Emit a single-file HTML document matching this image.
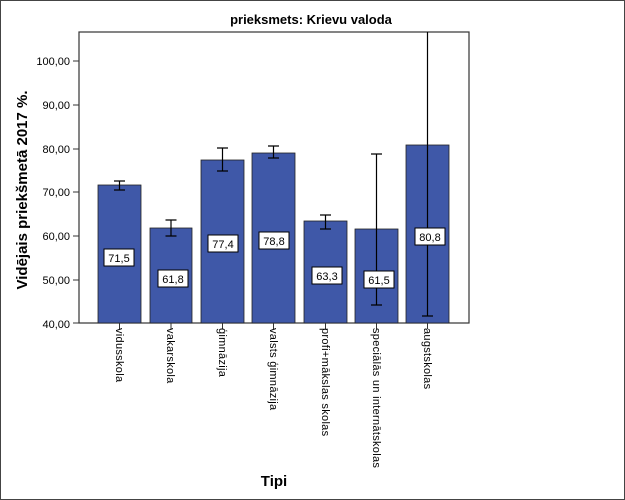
<!DOCTYPE html>
<html><head><meta charset="utf-8"><style>
body{margin:0;background:#fff}
svg{display:block;font-family:"Liberation Sans",sans-serif}
</style></head><body>
<svg width="625" height="500" viewBox="0 0 625 500" xmlns="http://www.w3.org/2000/svg">
<rect x="0.5" y="0.5" width="624" height="499" fill="#fff" stroke="#444"/>
<text x="311" y="24" font-size="13" font-weight="bold" text-anchor="middle">prieksmets: Krievu valoda</text>
<rect x="79" y="32" width="390" height="291" fill="#fff" stroke="#333" stroke-width="1.2"/>
<g font-size="11" text-anchor="end" fill="#000">
<text x="70" y="65">100,00</text><text x="70" y="109">90,00</text><text x="70" y="153">80,00</text>
<text x="70" y="196">70,00</text><text x="70" y="240">60,00</text><text x="70" y="284">50,00</text><text x="70" y="328">40,00</text>
</g>
<g stroke="#333"><line x1="73" x2="79" y1="61" y2="61"/><line x1="73" x2="79" y1="105" y2="105"/><line x1="73" x2="79" y1="149" y2="149"/><line x1="73" x2="79" y1="192" y2="192"/><line x1="73" x2="79" y1="236" y2="236"/><line x1="73" x2="79" y1="280" y2="280"/><line x1="73" x2="79" y1="323" y2="323"/></g>
<text transform="translate(27,190) rotate(-90)" font-size="15" font-weight="bold" text-anchor="middle">Vidējais priekšmetā 2017 %.</text>
<g fill="#3f58a8" stroke="#222" stroke-width="0.8">
<rect x="98" y="185" width="43" height="138"/>
<rect x="150" y="228" width="42" height="95"/>
<rect x="201" y="160" width="43" height="163"/>
<rect x="252" y="153" width="43" height="170"/>
<rect x="304" y="221" width="43" height="102"/>
<rect x="355" y="229" width="43" height="94"/>
<rect x="406" y="145" width="43" height="178"/>
</g>
<g stroke="#000" stroke-width="1.2" fill="none">
<path d="M119.5 181V190M114 181H125M114 190H125"/>
<path d="M171 220V236M165.5 220H176.5M165.5 236H176.5"/>
<path d="M222.5 148V171M217 148H228M217 171H228"/>
<path d="M273.5 146V158M268 146H279M268 158H279"/>
<path d="M325.5 215V229M320 215H331M320 229H331"/>
<path d="M376.5 154V305M371 154H382M371 305H382"/>
<path d="M427.5 32V316M422 316H433"/>
</g>
<g font-size="11" text-anchor="middle">
<rect x="104" y="249" width="30" height="17" fill="#fff" stroke="#000"/><text x="119" y="262">71,5</text>
<rect x="158" y="270" width="30" height="17" fill="#fff" stroke="#000"/><text x="173" y="283">61,8</text>
<rect x="208" y="235" width="30" height="17" fill="#fff" stroke="#000"/><text x="223" y="248">77,4</text>
<rect x="259" y="232" width="30" height="17" fill="#fff" stroke="#000"/><text x="274" y="245">78,8</text>
<rect x="312" y="267" width="30" height="17" fill="#fff" stroke="#000"/><text x="327" y="280">63,3</text>
<rect x="364" y="271" width="30" height="17" fill="#fff" stroke="#000"/><text x="379" y="284">61,5</text>
<rect x="415" y="228" width="30" height="17" fill="#fff" stroke="#000"/><text x="430" y="241">80,8</text>
</g>
<g stroke="#333"><line x1="119.5" x2="119.5" y1="323" y2="329"/><line x1="171" x2="171" y1="323" y2="329"/><line x1="222.5" x2="222.5" y1="323" y2="329"/><line x1="273.5" x2="273.5" y1="323" y2="329"/><line x1="325.5" x2="325.5" y1="323" y2="329"/><line x1="376.5" x2="376.5" y1="323" y2="329"/><line x1="427.5" x2="427.5" y1="323" y2="329"/></g>
<g font-size="11" letter-spacing="0.3">
<text transform="translate(116,328) rotate(90)">vidusskola</text>
<text transform="translate(167,328) rotate(90)">vakarskola</text>
<text transform="translate(219,328) rotate(90)">ģimnāzija</text>
<text transform="translate(270,328) rotate(90)">valsts ģimnāzija</text>
<text transform="translate(322,328) rotate(90)">profi+mākslas skolas</text>
<text transform="translate(373,328) rotate(90)">speciālās un internātskolas</text>
<text transform="translate(424,328) rotate(90)">augstskolas</text>
</g>
<text x="274" y="486" font-size="15" font-weight="bold" text-anchor="middle">Tipi</text>
</svg>
</body></html>
